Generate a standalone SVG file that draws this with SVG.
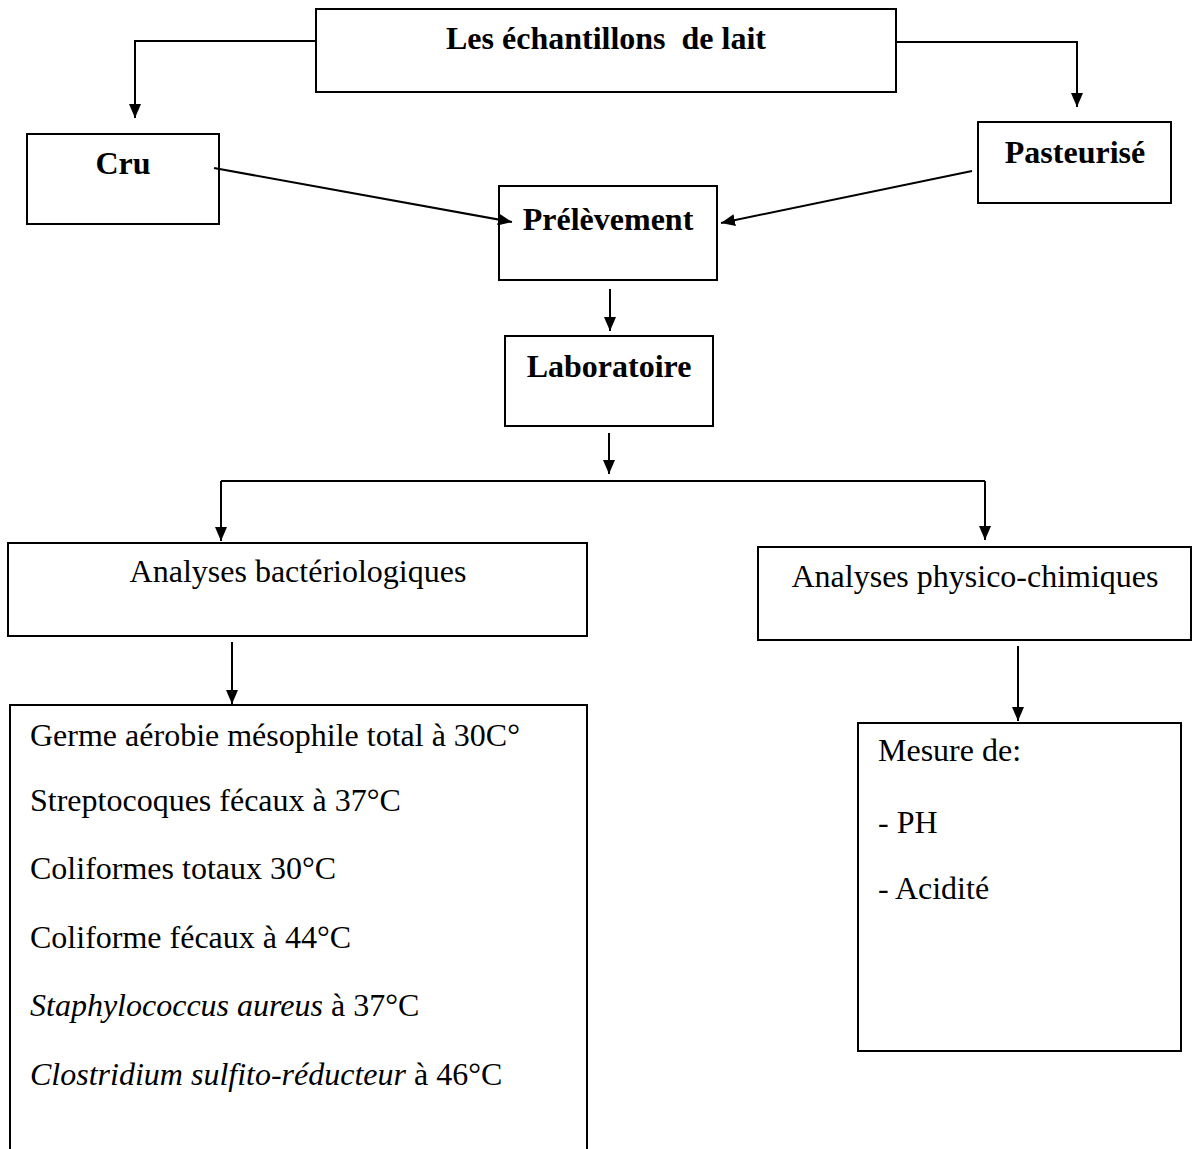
<svg xmlns="http://www.w3.org/2000/svg" width="1192" height="1149" viewBox="0 0 1192 1149">
<style>
.box{fill:#fff;stroke:#000;stroke-width:2}
.b{font-family:"Liberation Serif","Times New Roman",serif;font-weight:bold;font-size:32px;fill:#000;white-space:pre}
.t{font-family:"Liberation Serif","Times New Roman",serif;font-size:32px;fill:#000}
.c{stroke:#000;stroke-width:2;fill:none}
</style>
<defs>
<marker id="ah" viewBox="0 0 14 12" refX="14" refY="6" markerWidth="14" markerHeight="12" markerUnits="userSpaceOnUse" orient="auto">
<path d="M0,0 L14,6 L0,12 z" fill="#000"/>
</marker>
</defs>
<rect width="1192" height="1149" fill="#fff"/>
<g id="n-echantillons">
<rect class="box" x="316" y="9" width="580" height="83"/>
<text class="b" x="606" y="49" text-anchor="middle" xml:space="preserve">Les échantillons  de lait</text>
</g>
<g id="n-cru">
<rect class="box" x="27" y="134" width="192" height="90"/>
<text class="b" x="123" y="174" text-anchor="middle">Cru</text>
</g>
<g id="n-pasteurise">
<rect class="box" x="978" y="122" width="193" height="81"/>
<text class="b" x="1075" y="163" text-anchor="middle">Pasteurisé</text>
</g>
<g id="n-prelevement">
<rect class="box" x="499" y="186" width="218" height="94"/>
<text class="b" x="608" y="230" text-anchor="middle">Prélèvement</text>
</g>
<g id="n-laboratoire">
<rect class="box" x="505" y="336" width="208" height="90"/>
<text class="b" x="609" y="377" text-anchor="middle">Laboratoire</text>
</g>
<g id="n-bact">
<rect class="box" x="8" y="543" width="579" height="93"/>
<text class="t" x="298" y="582" text-anchor="middle">Analyses bactériologiques</text>
</g>
<g id="n-physico">
<rect class="box" x="758" y="547" width="433" height="93"/>
<text class="t" x="975" y="587" text-anchor="middle">Analyses physico-chimiques</text>
</g>
<g id="n-germes">
<path class="box" d="M10,1152 V705 H587 V1152"/>
<text class="t" x="30" y="746">Germe aérobie mésophile total à 30C°</text>
<text class="t" x="30" y="811">Streptocoques fécaux à 37°C</text>
<text class="t" x="30" y="879">Coliformes totaux 30°C</text>
<text class="t" x="30" y="948">Coliforme fécaux à 44°C</text>
<text class="t" x="30" y="1016"><tspan font-style="italic">Staphylococcus aureus</tspan> à 37°C</text>
<text class="t" x="30" y="1085"><tspan font-style="italic">Clostridium sulfito-réducteur</tspan> à 46°C</text>
</g>
<g id="n-mesure">
<rect class="box" x="858" y="723" width="323" height="328"/>
<text class="t" x="878" y="761">Mesure de:</text>
<text class="t" x="878" y="833">- PH</text>
<text class="t" x="878" y="899">- Acidité</text>
</g>
<g id="connectors">
<path class="c" d="M316,41 H135 V118" marker-end="url(#ah)"/>
<path class="c" d="M896,42 H1077 V107" marker-end="url(#ah)"/>
<path class="c" d="M214,168 L512,222" marker-end="url(#ah)"/>
<path class="c" d="M972,171 L721,223" marker-end="url(#ah)"/>
<path class="c" d="M610,289 V331" marker-end="url(#ah)"/>
<path class="c" d="M609,433 V474" marker-end="url(#ah)"/>
<path class="c" d="M221,481 H985"/>
<path class="c" d="M221,481 V541" marker-end="url(#ah)"/>
<path class="c" d="M985,481 V540" marker-end="url(#ah)"/>
<path class="c" d="M232,642 V704" marker-end="url(#ah)"/>
<path class="c" d="M1018,646 V721" marker-end="url(#ah)"/>
</g>
</svg>
